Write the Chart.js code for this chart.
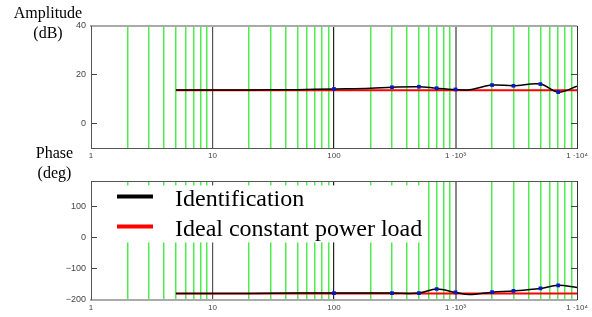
<!DOCTYPE html>
<html lang="en">
<head>
<meta charset="UTF-8">
<title>Amplitude and phase: identification vs ideal constant power load</title>
<script src="https://cdn.jsdelivr.net/npm/chart.js"></script>
<style>
  body { margin: 0; background: #fff; }
  #wrap { position: relative; width: 592px; height: 317px; }
  #ampBox { position: absolute; left: 0; top: 0; width: 592px; height: 165px; }
  #phaseBox { position: absolute; left: 0; top: 165px; width: 592px; height: 152px; }
  .ylab {
    position: absolute; z-index: 2; text-align: center; color: #000;
    font: 16px "Liberation Serif", "Times New Roman", serif; line-height: 20px;
  }
</style>
</head>
<body>
<div id="wrap">
  <div id="ampBox"><canvas id="ampChart"></canvas></div>
  <div id="phaseBox"><canvas id="phaseChart"></canvas></div>
  <div class="ylab" style="left:0; top:3px; width:96px;">Amplitude<br>(dB)</div>
  <div class="ylab" style="left:6px; top:143px; width:97px;">Phase<br>(deg)</div>
</div>

<script>
  // frequency axis
  const decades = [1, 10, 100, 1000, 10000];
  const decadeLabels = ['1', '10', '100', '1 \u00b710\u00b3', '1 \u00b710\u2074'];

  // identified response (black) and its measured points (blue)
  const idFreq  = [5, 10, 20, 50, 100, 200, 300, 500, 700, 1000, 1300, 2000, 3000, 5000, 7000, 10000];
  const idAmp   = [13.8, 13.8, 13.8, 13.9, 14.2, 14.5, 14.9, 15.1, 14.5, 14.0, 13.9, 15.8, 15.5, 16.2, 12.9, 15.3];
  const idPhase = [-180, -180, -180, -179, -179, -179, -179, -179, -166, -177, -184, -176, -172, -164, -154, -161];
  const markerFreq = [100, 300, 500, 700, 1000, 2000, 3000, 5000, 7000];

  // ideal constant power load (red)
  const loadFreq  = [5, 10000];
  const loadAmp   = [13.7, 13.7];
  const loadPhase = [-180, -180];

  const ampTicks = [0, 20, 40];
  const phaseTicks = [-200, -100, 0, 100];

  // vertical grid: every 1..9 multiple of each decade
  const gridFreq = [];
  decades.forEach(d => {
    for (let m = 1; m < 10; m++) if (d * m <= 10000) gridFreq.push(d * m);
  });

  Chart.defaults.font.family = '"Liberation Sans", Arial, sans-serif';

  function gridColor(c) {
    const v = c.tick && c.tick.value;
    if (v === 1 || v === 10000) return 'rgba(0,0,0,0)';
    if (v === 1000) return '#888';
    if (v === 10) return '#555';
    if (v === 100) return '#222';
    return '#4ded4d';
  }
  function gridWidth(c) {
    const v = c.tick && c.tick.value;
    if (v === 1000) return 2;
    if (decades.includes(v)) return 1.2;
    return 1.5;
  }

  function xAxis(position, main, borderColor, borderWidth, padding, height) {
    return {
      type: 'logarithmic',
      position: position,
      min: 1,
      max: 10000,
      afterBuildTicks: s => { s.ticks = gridFreq.map(v => ({ value: v })); },
      ticks: {
        display: main,
        autoSkip: false,
        maxRotation: 0,
        padding: padding,
        color: '#444',
        font: { size: 8 },
        callback: v => {
          const i = decades.indexOf(v);
          return i >= 0 ? decadeLabels[i] : '';
        }
      },
      grid: { display: main, drawTicks: false, drawOnChartArea: main, color: gridColor, lineWidth: gridWidth },
      border: { display: true, color: borderColor, width: borderWidth },
      afterFit: s => { s.height = height; }
    };
  }

  function yAxis(position, tickVals, min, max, main, width, borderColor) {
    return {
      type: 'linear',
      position: position,
      min: min,
      max: max,
      afterBuildTicks: s => { s.ticks = tickVals.map(v => ({ value: v })); },
      ticks: {
        display: main,
        padding: 11,
        color: '#444',
        font: { size: 9 },
        callback: v => (v < 0 ? '\u2212' + Math.abs(v) : String(v))
      },
      grid: { drawOnChartArea: false, drawTicks: true, tickLength: -6, color: '#444' },
      border: { display: true, color: borderColor, width: 1 },
      afterFit: s => { s.width = width; }
    };
  }

  function idDataset(values) {
    return {
      label: 'Identification',
      data: idFreq.map((f, i) => ({ x: f, y: values[i] })),
      borderColor: '#000',
      borderWidth: 1.5,
      tension: 0.35,
      pointStyle: 'rect',
      pointRadius: idFreq.map(f => (markerFreq.includes(f) ? 2.6 : 0)),
      pointBackgroundColor: '#0a14c8',
      pointBorderColor: '#0a14c8',
      pointBorderWidth: 0
    };
  }

  function loadDataset(values) {
    return {
      label: 'Ideal constant power load',
      data: loadFreq.map((f, i) => ({ x: f, y: values[i] })),
      borderColor: '#ff0000',
      backgroundColor: '#ff0000',
      borderWidth: 2,
      pointRadius: 0
    };
  }

  // legend drawn inside the phase plot, over the grid
  const legendBox = {
    id: 'legendBox',
    beforeDatasetsDraw(chart) {
      const ctx = chart.ctx;
      const a = chart.chartArea;
      ctx.save();
      ctx.fillStyle = '#fff';
      ctx.fillRect(a.left + 7, a.top + 4, 327, 57);
      ctx.font = '24px "Liberation Serif", "Times New Roman", serif';
      ctx.textBaseline = 'alphabetic';
      chart.data.datasets.forEach((ds, i) => {
        const y = a.top + 15 + i * 30;
        ctx.strokeStyle = ds.borderColor;
        ctx.lineWidth = 4;
        ctx.beginPath();
        ctx.moveTo(a.left + 26, y);
        ctx.lineTo(a.left + 62, y);
        ctx.stroke();
        ctx.fillStyle = '#000';
        ctx.fillText(ds.label, a.left + 84, y + 10);
      });
      ctx.restore();
    }
  };

  const common = {
    responsive: true,
    maintainAspectRatio: false,
    animation: false,
    layout: { padding: 0 },
    plugins: { legend: { display: false }, tooltip: { enabled: false } }
  };

  new Chart(document.getElementById('ampChart'), {
    type: 'line',
    data: { datasets: [idDataset(idAmp), loadDataset(loadAmp)] },
    options: Object.assign({}, common, {
      scales: {
        x: xAxis('bottom', true, '#555', 1, 3, 17),
        x2: xAxis('top', false, '#aaa', 2, 0, 26),
        y: yAxis('left', ampTicks, -10, 40, true, 91, '#555'),
        y2: yAxis('right', ampTicks, -10, 40, false, 15, '#333')
      }
    })
  });

  new Chart(document.getElementById('phaseChart'), {
    type: 'line',
    data: { datasets: [idDataset(idPhase), loadDataset(loadPhase)] },
    options: Object.assign({}, common, {
      scales: {
        x: xAxis('bottom', true, '#aaa', 2, 3.6, 17.4),
        x2: xAxis('top', false, '#555', 1, 0, 8),
        y: yAxis('left', phaseTicks, -200, 180, true, 91, '#555'),
        y2: yAxis('right', phaseTicks, -200, 180, false, 15, '#333')
      }
    }),
    plugins: [legendBox]
  });
</script>
</body>
</html>
